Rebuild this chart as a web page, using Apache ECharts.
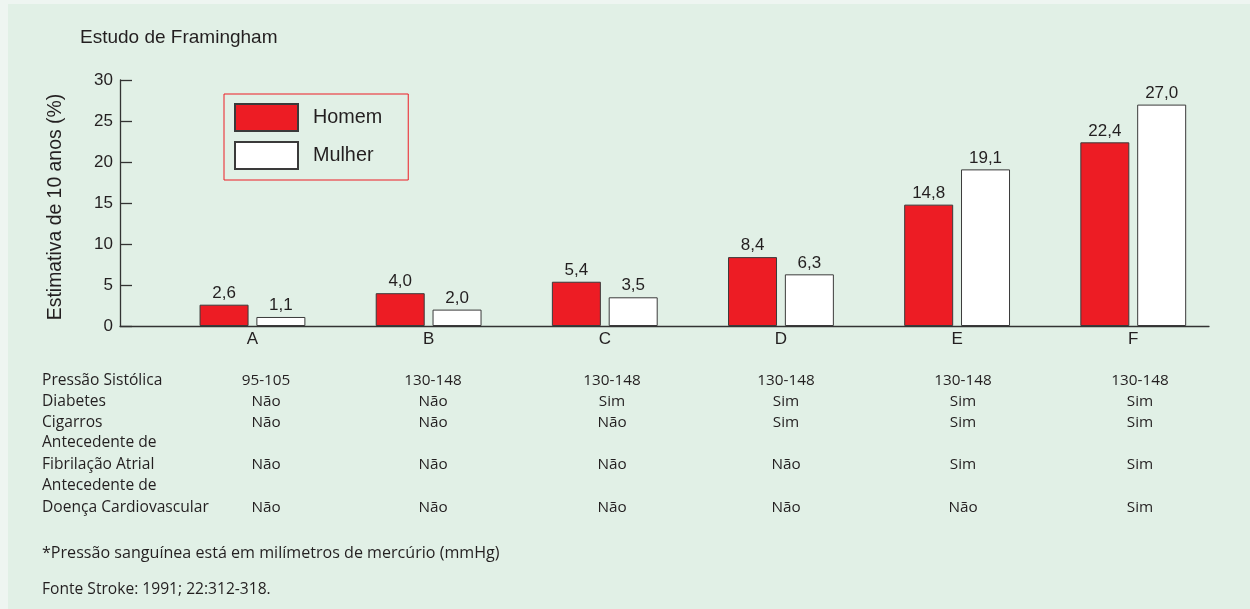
<!DOCTYPE html>
<html>
<head>
<meta charset="utf-8">
<script src="https://cdn.jsdelivr.net/npm/echarts@6/dist/echarts.min.js"></script>
<style>
html,body{margin:0;padding:0;background:#eef5f1;}
#c{width:1250px;height:609px;}
</style>
</head>
<body>
<div id="c"></div>
<script>
// ---- data ----
const categories = ['A', 'B', 'C', 'D', 'E', 'F'];
const homem = [2.6, 4.0, 5.4, 8.4, 14.8, 22.4];
const mulher = [1.1, 2.0, 3.5, 6.3, 19.1, 27.0];
const yTicks = [0, 5, 10, 15, 20, 25, 30];
const rowLabels = ['Pressão Sistólica', 'Diabetes', 'Cigarros', 'Antecedente de', 'Fibrilação Atrial', 'Antecedente de', 'Doença Cardiovascular'];
const pressao = ['95-105', '130-148', '130-148', '130-148', '130-148', '130-148'];
const diabetes = ['Não', 'Não', 'Sim', 'Sim', 'Sim', 'Sim'];
const cigarros = ['Não', 'Não', 'Não', 'Sim', 'Sim', 'Sim'];
const fibrilacao = ['Não', 'Não', 'Não', 'Não', 'Sim', 'Sim'];
const doenca = ['Não', 'Não', 'Não', 'Não', 'Não', 'Sim'];
const footnote = '*Pressão sanguínea está em milímetros de mercúrio (mmHg)';
const source = 'Fonte Stroke: 1991; 22:312-318.';

const TXT = '#231f20';
const AX = '#333333';
const chartFont = "'Liberation Sans', Arial, sans-serif";
const tableFont = "'Open Sans', 'Noto Sans', sans-serif";

const chart = echarts.init(document.getElementById('c'));
const fmt = v => v.toFixed(1).replace('.', ',');

chart.setOption({
  backgroundColor: '#eef5f1',
  animation: false,
  title: {
    text: 'Estudo de Framingham',
    left: 80, top: 28, padding: 0,
    textStyle: {fontFamily: chartFont, fontSize: 19, fontWeight: 'normal', color: TXT}
  },
  legend: {
    left: 224, top: 94,
    orient: 'vertical',
    itemWidth: 63, itemHeight: 27, itemGap: 9,
    padding: [9, 26, 10, 10],
    borderColor: '#ed1c24', borderWidth: 1,
    icon: 'rect',
    textStyle: {fontFamily: chartFont, fontSize: 19.8, color: TXT, padding: [2, 0, 0, 10]},
    data: ['Homem', 'Mulher']
  },
  grid: {left: 120, right: 41, top: 80, bottom: 283, containLabel: false},
  xAxis: {
    type: 'value',
    min: -0.752, max: 5.43,
    splitLine: {show: false},
    axisTick: {show: false},
    axisLine: {show: true, onZero: false, lineStyle: {color: AX, width: 1.3}},
    axisLabel: {
      customValues: categories.map((c, i) => i),
      formatter: v => categories[Math.round(v)],
      fontFamily: chartFont, fontSize: 17, color: TXT, margin: 5
    }
  },
  yAxis: {
    type: 'value', min: 0, max: 30, interval: 5,
    name: 'Estimativa de 10 anos (%)',
    nameLocation: 'middle', nameGap: 55,
    nameTextStyle: {fontFamily: chartFont, fontSize: 19.4, color: TXT, padding: [0, 8, 0, 0]},
    splitLine: {show: false},
    axisLine: {show: true, onZero: false, lineStyle: {color: AX, width: 1.3}},
    axisTick: {show: true, inside: true, length: 12, lineStyle: {color: AX, width: 1.3}},
    axisLabel: {
      customValues: yTicks,
      fontFamily: chartFont, fontSize: 17, color: TXT, margin: 7
    }
  },
  series: [
    {
      name: 'Homem', type: 'bar',
      barWidth: 49, barGap: '16%',
      data: homem.map((v, i) => [i, v]),
      itemStyle: {color: '#ed1c24', borderColor: '#3a3a3a', borderWidth: 1},
      label: {show: true, position: 'top', distance: 3, formatter: p => fmt(p.value[1]),
        fontFamily: chartFont, fontSize: 17, color: TXT}
    },
    {
      name: 'Mulher', type: 'bar',
      barWidth: 49, barGap: '16%',
      data: mulher.map((v, i) => [i, v]),
      itemStyle: {color: '#ffffff', borderColor: '#3a3a3a', borderWidth: 1},
      label: {show: true, position: 'top', distance: 3, formatter: p => fmt(p.value[1]),
        fontFamily: chartFont, fontSize: 17, color: TXT}
    }
  ]
});

// table and notes (layout positions)
const rowY = [381, 402, 423, 443, 465, 486, 508];
const colX = [266, 433, 612, 786, 963, 1140];
const valueRows = [[pressao, 0], [diabetes, 1], [cigarros, 2], [fibrilacao, 4], [doenca, 6]];
const tf = '15.6px ' + tableFont;
const g = [];
g.push({type: 'rect', z: -10, shape: {x: 8, y: 4, width: 1242, height: 605}, style: {fill: '#e1f0e6'}, silent: true});
rowLabels.forEach((t, i) => {
  g.push({type: 'text', x: 42, y: rowY[i], style: {text: t, font: tf, fill: TXT, textAlign: 'left', textVerticalAlign: 'middle'}});
});
valueRows.forEach(([arr, r]) => {
  arr.forEach((t, i) => {
    g.push({type: 'text', x: colX[i], y: rowY[r], style: {text: t, font: '15.3px ' + tableFont, fill: TXT, textAlign: 'center', textVerticalAlign: 'middle'}});
  });
});
g.push({type: 'text', x: 42, y: 553, style: {text: footnote, font: '16.1px ' + tableFont, fill: TXT, textAlign: 'left', textVerticalAlign: 'middle'}});
g.push({type: 'text', x: 42, y: 590, style: {text: source, font: '15.6px ' + tableFont, fill: TXT, textAlign: 'left', textVerticalAlign: 'middle'}});
chart.setOption({graphic: g});
</script>
</body>
</html>
